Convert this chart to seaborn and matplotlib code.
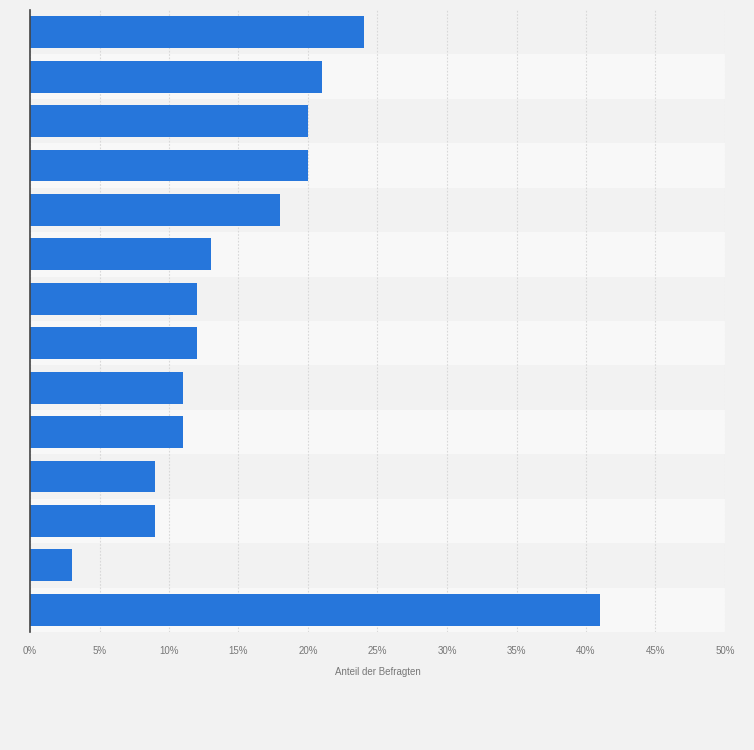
import matplotlib
matplotlib.use("Agg")
import matplotlib.pyplot as plt
import seaborn as sns
import pandas as pd

# Data (category names are not shown in the chart)
categories = [f"Kategorie {i}" for i in range(1, 15)]
values = [24, 21, 20, 20, 18, 13, 12, 12, 11, 11, 9, 9, 3, 41]
x_ticks = [0, 5, 10, 15, 20, 25, 30, 35, 40, 45, 50]
x_tick_labels = [f"{t}%" for t in x_ticks]

df = pd.DataFrame({"Kategorie": categories, "Anteil": values})

sns.set_style("white")
plt.rcParams['font.family'] = ['Liberation Sans', 'DejaVu Sans']

fig = plt.figure(figsize=(7.54, 7.5), dpi=100)
fig.patch.set_facecolor("#f2f2f2")
ax = fig.add_axes([30 / 754, 118 / 750, 695 / 754, 622 / 750])
ax.set_facecolor("#f2f2f2")

# alternating row bands
for i in range(len(categories)):
    ax.axhspan(i - 0.5, i + 0.5, color="#f2f2f2" if i % 2 == 0 else "#f8f8f8", zorder=0, lw=0)

sns.barplot(data=df, x="Anteil", y="Kategorie", orient="h", color="#2676db",
            saturation=1, width=0.72, ax=ax, zorder=3, linewidth=0)

ax.set_xlim(0, 50)
ax.set_ylim(len(categories) - 0.5, -0.5)
ax.set_xticks(x_ticks)
ax.set_xticklabels(x_tick_labels, fontsize=7, color="#777777")
ax.set_yticks([])
ax.set_ylabel("")
ax.set_xlabel("Anteil der Befragten", fontsize=7, color="#777777", labelpad=8)
ax.tick_params(axis="x", length=0, pad=10)

ax.grid(axis="x", color="#d8d8d8", linestyle=(0, (1.5, 1.5)), linewidth=0.8, zorder=1)
ax.set_axisbelow(True)
for side in ["top", "right", "bottom"]:
    ax.spines[side].set_visible(False)
ax.spines["left"].set_color("#444444")
ax.spines["left"].set_linewidth(1.2)
ax.spines["left"].set_zorder(5)

fig.savefig("out.png", dpi=100, facecolor=fig.get_facecolor())
